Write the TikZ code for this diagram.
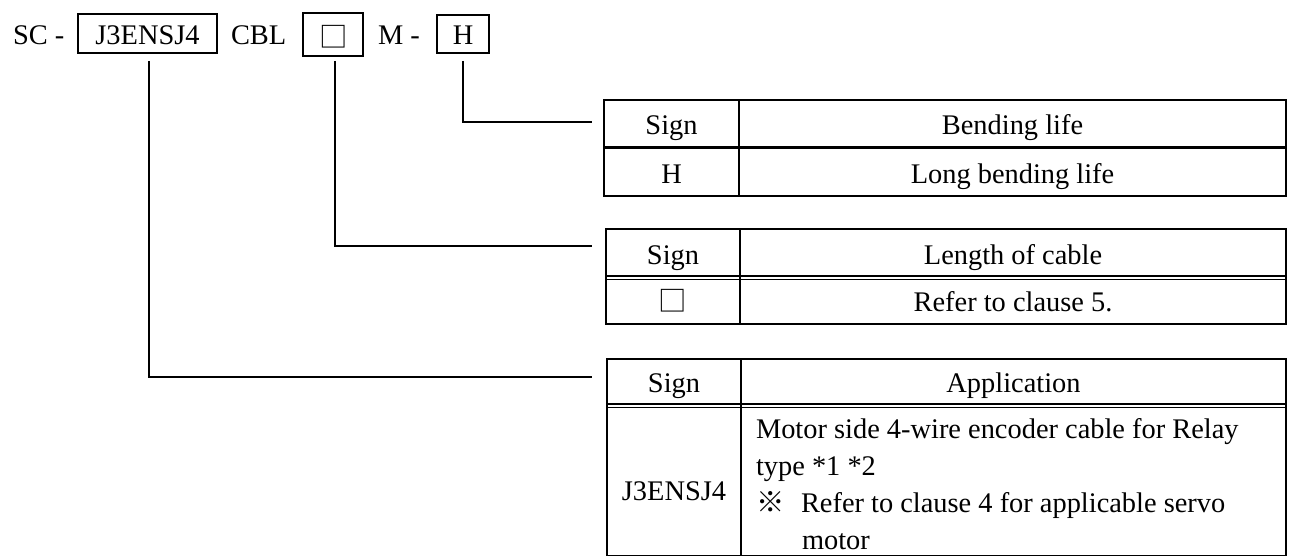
\documentclass[tikz,border=0pt]{standalone}
\usepackage{fontspec}
\setmainfont{Liberation Serif}
\newfontfamily\cjkfont{Noto Sans CJK JP}
\begin{document}
\begin{tikzpicture}[x=0.5pt,y=-0.5pt,line width=1pt,
  font=\fontsize{14.2}{17}\selectfont,
  txt/.style={inner sep=0pt,anchor=base},
  txtl/.style={inner sep=0pt,anchor=base west},
  codebox/.style={draw,line width=1pt,inner sep=0pt},
  frame/.style={line width=1pt},
  dbl/.style={line width=0.7pt},
  conn/.style={line width=1pt}]
\useasboundingbox (0,0) rectangle (1289,556);

% ---- top code line ----
\node[txtl] (sc) at (12,45) {SC -};
\node[codebox,minimum width=69.5pt,minimum height=19.5pt] (bJ) at (147.5,33.5) {};
\node[txt] (tJ) at (147.5,45) {J3ENSJ4};
\node[txtl] (cbl) at (230,45) {CBL};
\node[codebox,minimum width=30pt,minimum height=21.5pt] (bL) at (333,34.5) {};
\node[inner sep=0pt] (tL) at (334,37) {\cjkfont □};
\node[txtl] (m) at (377,45) {M -};
\node[codebox,minimum width=26pt,minimum height=19pt] (bH) at (463,34) {};
\node[txt] (tH) at (463,45) {H};

% connector end points
\coordinate (eH) at (592,122);
\coordinate (eL) at (592,246);
\coordinate (eJ) at (592,377);
\coordinate (sH) at (463,61);
\coordinate (sL) at (335,61);
\coordinate (sJ) at (149,61);
\draw[conn] (sH) |- (eH);
\draw[conn] (sL) |- (eL);
\draw[conn] (sJ) |- (eJ);

% ---- table 1 : bending life ----
\draw[frame] (604,100) rectangle (1286,196);
\draw[line width=1.6pt] (604,147.5) -- (1286,147.5);
\draw[frame] (739,100) -- (739,196);
\node[txt] (a1) at (671.5,134) {Sign};
\node[txt] (a2) at (1012.5,134) {Bending life};
\node[txt] (a3) at (671.5,183) {H};
\node[txt] (a4) at (1012.5,183) {Long bending life};

% ---- table 2 : length of cable ----
\draw[frame] (606,229) rectangle (1286,324);
\draw[dbl] (606,276) -- (1286,276);
\draw[dbl] (606,279.5) -- (1286,279.5);
\draw[frame] (740,229) -- (740,324);
\node[txt] (b1) at (673,264) {Sign};
\node[txt] (b2) at (1013,264) {Length of cable};
\node[inner sep=0pt] (b3) at (673,301) {\cjkfont □};
\node[txt] (b4) at (1013,311) {Refer to clause 5.};

% ---- table 3 : application ----
\draw[frame] (607,359) rectangle (1286,555.5);
\draw[dbl] (607,404) -- (1286,404);
\draw[dbl] (607,407.5) -- (1286,407.5);
\draw[frame] (741,359) -- (741,555.5);
\node[txt] (c1) at (674,392) {Sign};
\node[txt] (c2) at (1013.5,392) {Application};
\node[txt] (c3) at (674,500) {J3ENSJ4};
\node[txtl] (c4) at (755,438) {Motor side 4-wire encoder cable for Relay};
\node[txtl] (c5) at (755,475) {type *1 *2};
\node[txtl] (c6) at (755,512) {\cjkfont ※};
\node[txtl] (c7) at (800,512) {Refer to clause 4 for applicable servo};
\node[txtl] (c8) at (801,549) {motor};
\end{tikzpicture}
\end{document}
